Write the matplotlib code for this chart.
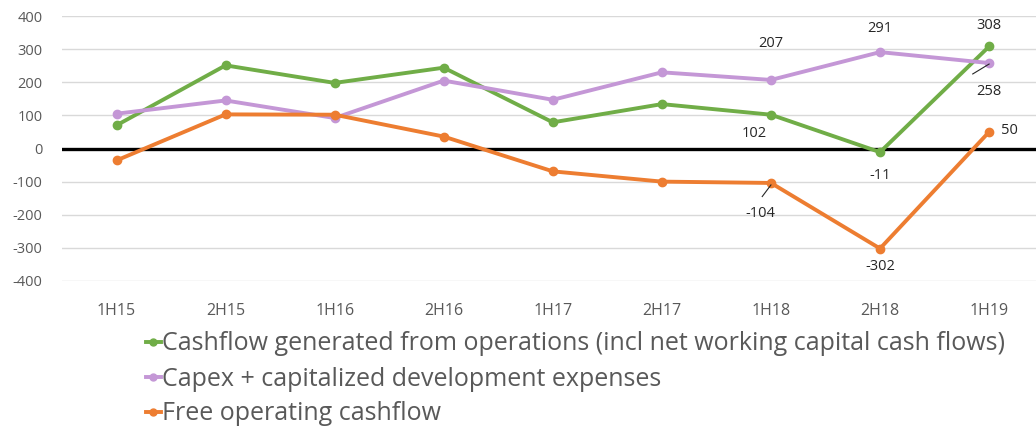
import matplotlib
matplotlib.use("Agg")
import matplotlib.pyplot as plt

categories = ["1H15", "2H15", "1H16", "2H16", "1H17", "2H17", "1H18", "2H18", "1H19"]
cfo = [70, 251, 198, 244, 79, 134, 102, -11, 308]
capex = [105, 145, 92, 205, 147, 230, 207, 291, 258]
fcf = [-36, 103, 102, 36, -69, -100, -104, -302, 50]
series_names = [
    "Cashflow generated from operations (incl net working capital cash flows)",
    "Capex + capitalized development expenses",
    "Free operating cashflow",
]
colors = ["#70AD47", "#C497D6", "#ED7D31"]
yticks = [400, 300, 200, 100, 0, -100, -200, -300, -400]

plt.rcParams['font.family'] = ['Open Sans', 'DejaVu Sans']
plt.rcParams['axes.unicode_minus'] = False

fig = plt.figure(figsize=(10.36, 4.28), dpi=100)
ax = fig.add_axes([62/1036, 147/428, 1 - 62/1036, 265/428])
x = list(range(len(categories)))

handles = []
for vals, c, name in zip([cfo, capex, fcf], colors, series_names):
    h, = ax.plot(x, vals, color=c, lw=2.8, marker='o', ms=6, label=name,
                 solid_joinstyle='round', zorder=3)
    handles.append(h)

ax.axhline(0, color='black', lw=2.4, zorder=2)
ax.set_ylim(-400, 400)
ax.set_xlim(-0.5, 8.43)
ax.set_yticks(yticks)
ax.set_xticks(x)
ax.set_xticklabels(categories)
ax.grid(axis='y', color='#D9D9D9', lw=1)
ax.set_axisbelow(True)
for s in ax.spines.values():
    s.set_visible(False)
ax.tick_params(length=0)
ax.tick_params(axis='y', labelsize=10.5, colors='#595959', pad=14)
ax.tick_params(axis='x', labelsize=11.5, colors='#595959', pad=16)

lab = dict(fontsize=10.5, color='#262626', ha='center', va='center')
ax.text(6 - 0.15, cfo[6] - 57, str(cfo[6]), **lab)
ax.text(7, cfo[7] - 70, str(cfo[7]), **lab)
ax.text(8, cfo[8] + 62, str(cfo[8]), **lab)
ax.text(6, capex[6] + 110, str(capex[6]), **lab)
ax.text(7, capex[7] + 72, str(capex[7]), **lab)
ax.text(8, capex[8] - 85, str(capex[8]), **lab)
ax.plot([7.85, 8.0], [225, 255], color='#262626', lw=0.8, zorder=4)
ax.text(6 - 0.1, fcf[6] - 92, str(fcf[6]), **lab)
ax.plot([5.92, 6.0], [-145, -110], color='#262626', lw=0.8, zorder=4)
ax.text(7, fcf[7] - 55, str(fcf[7]), **lab)
ax.text(8.19, fcf[8] + 5, str(fcf[8]), **lab)

leg = fig.legend(handles=handles, loc='upper left', bbox_to_anchor=(133/1036, 1 - 319/428),
                 frameon=False, fontsize=18, handlelength=0.62, handletextpad=0.06,
                 labelspacing=0.4, borderpad=0, labelcolor='#595959')
for lh in leg.legend_handles:
    lh.set_markersize(5)

fig.savefig("out.png", dpi=100)
